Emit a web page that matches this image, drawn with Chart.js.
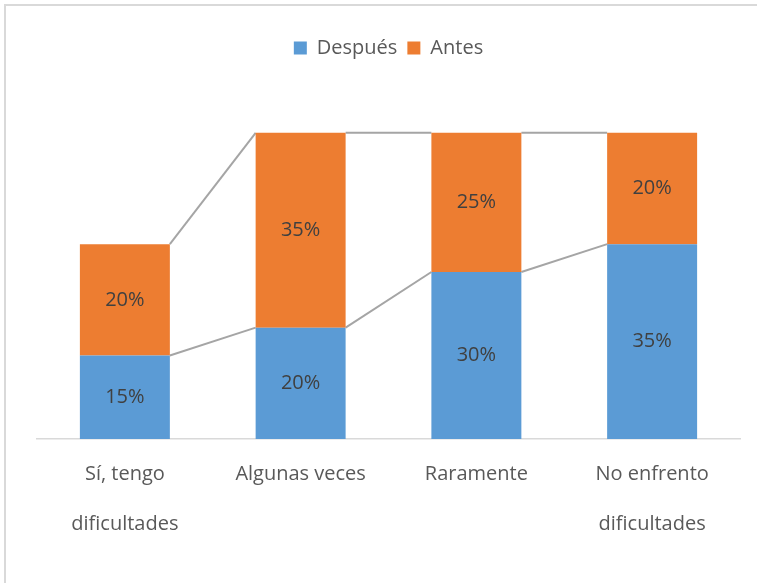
<!DOCTYPE html>
<html>
<head>
<meta charset="utf-8">
<script src="https://cdn.jsdelivr.net/npm/chart.js@4.4.1/dist/chart.umd.min.js"></script>
<style>
  html, body { margin: 0; padding: 0; background: #fff; overflow: hidden; }
  #frame { position: absolute; left: 4px; top: 4px; width: 800px; height: 620px; border: 2px solid #d9d9d9; }
  #wrap { position: absolute; left: 0; top: 0; width: 757px; height: 583px; }
</style>
</head>
<body>
<div id="frame"></div>
<div id="wrap"><canvas id="chart" width="757" height="583"></canvas></div>
<script>
var categories = [['Sí, tengo', 'dificultades'], 'Algunas veces', 'Raramente', ['No enfrento', 'dificultades']];
var despues = [15, 20, 30, 35];
var antes = [20, 35, 25, 20];
var yMax = 60;

var fontFamily = "'Open Sans', sans-serif";

// gray series lines joining the stack boundaries of neighbouring bars
var seriesLines = {
  id: 'seriesLines',
  beforeDatasetsDraw(chart) {
    const ctx = chart.ctx;
    const yScale = chart.scales.y;
    const metas = chart.data.datasets.map((d, i) => chart.getDatasetMeta(i));
    ctx.save();
    ctx.strokeStyle = '#a5a5a5';
    ctx.lineWidth = 2;
    for (let d = 0; d < metas.length; d++) {
      for (let i = 0; i < categories.length - 1; i++) {
        let a = 0, b = 0;
        for (let k = 0; k <= d; k++) {
          a += chart.data.datasets[k].data[i];
          b += chart.data.datasets[k].data[i + 1];
        }
        const e1 = metas[d].data[i], e2 = metas[d].data[i + 1];
        ctx.beginPath();
        ctx.moveTo(e1.x + e1.width / 2, yScale.getPixelForValue(a));
        ctx.lineTo(e2.x - e2.width / 2, yScale.getPixelForValue(b));
        ctx.stroke();
      }
    }
    ctx.restore();
  }
};

// value labels in the middle of each segment
var segLabels = {
  id: 'segLabels',
  afterDatasetsDraw(chart) {
    const ctx = chart.ctx;
    ctx.save();
    ctx.font = '20px ' + fontFamily;
    ctx.fillStyle = '#404040';
    ctx.textAlign = 'center';
    ctx.textBaseline = 'middle';
    chart.data.datasets.forEach((ds, di) => {
      chart.getDatasetMeta(di).data.forEach((el, i) => {
        ctx.fillText(ds.data[i] + '%', el.x, (el.y + el.base) / 2);
      });
    });
    ctx.restore();
  }
};

new Chart(document.getElementById('chart'), {
  type: 'bar',
  data: {
    labels: categories,
    datasets: [
      { label: 'Después', data: despues, backgroundColor: '#5b9bd5' },
      { label: 'Antes', data: antes, backgroundColor: '#ed7d31' }
    ]
  },
  options: {
    responsive: false,
    animation: false,
    events: [],
    layout: { padding: { top: 28, left: 37, right: 17, bottom: 24 } },
    datasets: { bar: { categoryPercentage: 1, barPercentage: 0.512 } },
    plugins: {
      legend: {
        position: 'top',
        labels: {
          color: '#595959',
          font: { family: fontFamily, size: 20 },
          boxWidth: 13,
          boxHeight: 13,
          padding: 10
        }
      },
      tooltip: { enabled: false }
    },
    scales: {
      x: {
        stacked: true,
        grid: { display: false, drawTicks: false },
        border: { color: '#d9d9d9', width: 1.5 },
        ticks: {
          color: '#595959',
          font: { family: fontFamily, size: 20, lineHeight: 2.5 },
          padding: 10,
          maxRotation: 0
        }
      },
      y: {
        stacked: true,
        display: false,
        min: 0,
        max: yMax
      }
    }
  },
  plugins: [seriesLines, segLabels, {
    id: 'legendGap',
    beforeInit(chart) {
      const fit = chart.legend.fit;
      chart.legend.fit = function () {
        fit.call(this);
        this.height += 37;
      };
    }
  }]
});
</script>
</body>
</html>
